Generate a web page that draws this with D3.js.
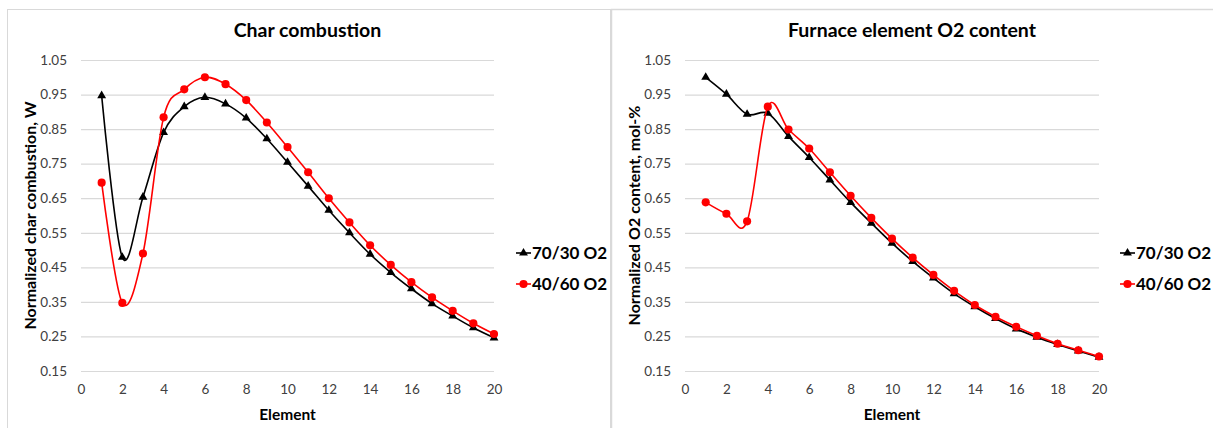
<!DOCTYPE html>
<html>
<head>
<meta charset="utf-8">
<script src="https://cdn.jsdelivr.net/npm/d3@7"></script>
<style>
  body { margin: 0; background: #fff; }
  svg text { font-family: Lato, "Open Sans", sans-serif; }
</style>
</head>
<body>
<svg width="1213" height="428"></svg>
<script>
// data
const elements = d3.range(1, 21);
const yTicks = [0.15, 0.25, 0.35, 0.45, 0.55, 0.65, 0.75, 0.85, 0.95, 1.05];
const xTicks = [0, 2, 4, 6, 8, 10, 12, 14, 16, 18, 20];
const seriesNames = ["70/30 O2", "40/60 O2"];

const charBlack = [0.947, 0.479, 0.653, 0.84, 0.915, 0.942, 0.923, 0.882, 0.822, 0.754,
                   0.685, 0.615, 0.55, 0.488, 0.435, 0.388, 0.345, 0.309, 0.275, 0.246];
const charRed   = [0.695, 0.347, 0.49, 0.884, 0.965, 1.0, 0.98, 0.934, 0.869, 0.798,
                   0.725, 0.65, 0.58, 0.514, 0.457, 0.407, 0.363, 0.324, 0.288, 0.257];
const o2Black   = [1.0, 0.951, 0.893, 0.896, 0.829, 0.768, 0.703, 0.638, 0.578, 0.52,
                   0.467, 0.419, 0.374, 0.336, 0.302, 0.272, 0.248, 0.227, 0.208, 0.19];
const o2Red     = [0.638, 0.605, 0.583, 0.915, 0.849, 0.794, 0.725, 0.657, 0.593, 0.533,
                   0.478, 0.428, 0.382, 0.341, 0.307, 0.278, 0.252, 0.229, 0.21, 0.192];

const svg = d3.select("svg");

// chart frames
svg.append("rect").attr("x", 7.5).attr("y", 9.5).attr("width", 603).attr("height", 430)
  .attr("fill", "none").attr("stroke", "#d9d9d9");
svg.append("rect").attr("x", 611.5).attr("y", 9.5).attr("width", 610).attr("height", 430)
  .attr("fill", "none").attr("stroke", "#d9d9d9").attr("stroke-width", 1.5);

function drawChart(opt) {
  const x = d3.scaleLinear().domain([0, 20]).range([opt.x0, opt.x1]);
  const y = d3.scaleLinear().domain([0.15, 1.05]).range([371, 60]);
  const g = svg.append("g");

  g.append("text")
    .attr("x", (opt.x0 + opt.x1) / 2 + opt.titleDx).attr("y", 37)
    .attr("text-anchor", "middle").attr("font-size", 19.5).attr("font-weight", "bold")
    .attr("fill", "#000").text(opt.title);

  // horizontal gridlines
  g.append("g").selectAll("line").data(yTicks).join("line")
    .attr("x1", x(0)).attr("x2", x(20))
    .attr("y1", d => y(d) + 0.5).attr("y2", d => y(d) + 0.5)
    .attr("stroke", "#d9d9d9").attr("stroke-width", 1.2);

  // y axis labels
  g.append("g")
    .attr("transform", `translate(${x(0)},0)`)
    .call(d3.axisLeft(y).tickValues(yTicks).tickFormat(d3.format(".2f")).tickSize(0).tickPadding(14))
    .call(a => a.select(".domain").remove())
    .call(a => a.selectAll("text").attr("font-size", 13.5).attr("fill", "#404040")
      .attr("font-family", "Lato, sans-serif"));

  // x axis labels
  g.append("g")
    .attr("transform", `translate(0,${y(0.15)})`)
    .call(d3.axisBottom(x).tickValues(xTicks).tickFormat(d3.format("d")).tickSize(0).tickPadding(13))
    .call(a => a.select(".domain").remove())
    .call(a => a.selectAll("text").attr("font-size", 13.5).attr("fill", "#404040")
      .attr("font-family", "Lato, sans-serif"));

  g.append("text")
    .attr("x", (opt.x0 + opt.x1) / 2).attr("y", 420)
    .attr("text-anchor", "middle").attr("font-size", 15.5).attr("font-weight", "bold")
    .text("Element");

  g.append("text")
    .attr("transform", `translate(${opt.x0 - 45},${(y(0.15) + y(1.05)) / 2}) rotate(-90)`)
    .attr("text-anchor", "middle").attr("font-size", 16).attr("font-weight", "bold")
    .text(opt.yTitle);

  const line = d3.line()
    .x((d, i) => x(elements[i]))
    .y(d => y(d))
    .curve(d3.curveCardinal.tension(0));

  const series = [
    { name: seriesNames[0], values: opt.black, color: "#000000", shape: d3.symbolTriangle, size: 34 },
    { name: seriesNames[1], values: opt.red, color: "#ff0000", shape: d3.symbolCircle, size: 52 }
  ];

  series.forEach(s => {
    g.append("path").datum(s.values)
      .attr("d", line).attr("fill", "none")
      .attr("stroke", s.color).attr("stroke-width", 1.6);
    g.append("g").selectAll("path").data(s.values).join("path")
      .attr("transform", (d, i) => `translate(${x(elements[i])},${y(d)})`)
      .attr("d", d3.symbol(s.shape, s.size))
      .attr("fill", s.color);
  });

  // legend
  const leg = g.append("g").attr("transform", `translate(${opt.legX},253)`);
  series.forEach((s, i) => {
    const row = leg.append("g").attr("transform", `translate(0,${i * 31})`);
    row.append("line").attr("x1", 0).attr("x2", 15).attr("stroke", s.color).attr("stroke-width", 1.6);
    row.append("path").attr("transform", "translate(7.5,0)")
      .attr("d", d3.symbol(s.shape, s.size)).attr("fill", s.color);
    row.append("text").attr("x", 16).attr("y", 6).attr("font-size", 17).attr("font-weight", "bold")
      .attr("fill", "#000").text(s.name);
  });
}

drawChart({ x0: 81, x1: 494, title: "Char combustion", titleDx: 20,
  yTitle: "Normalized char combustion, W", black: charBlack, red: charRed, legX: 516 });
drawChart({ x0: 685, x1: 1099, title: "Furnace element O2 content", titleDx: 20,
  yTitle: "Normalized O2 content, mol-%", black: o2Black, red: o2Red, legX: 1120 });
</script>
</body>
</html>
